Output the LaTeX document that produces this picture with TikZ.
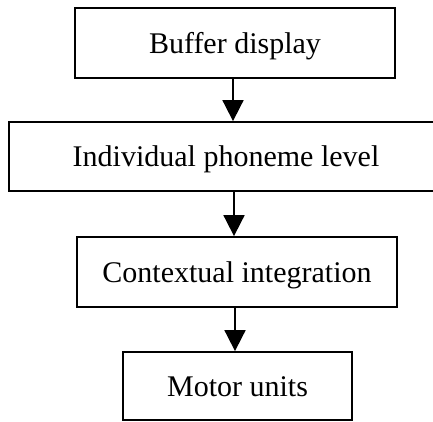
\documentclass[tikz,border=0pt]{standalone}
\usepackage{fontspec}
\setmainfont{Liberation Serif}
\usetikzlibrary{arrows.meta}
\begin{document}
\begin{tikzpicture}[x=1pt,y=-1pt,
  box/.style={draw=black,line width=1.8pt,rectangle,inner sep=0pt,text height=20pt,text depth=0pt,font=\fontsize{30}{36}\selectfont},
  arr/.style={line width=1.8pt,-{Triangle[length=21pt,width=21pt]}}]
\useasboundingbox (0,0) rectangle (433,421);
\fill[white] (0,0) rectangle (433,421);
\node[box,minimum width=320pt,minimum height=70pt] (buf) at (235,43) {Buffer display};
\node[box,minimum width=434pt,minimum height=69pt] (ind) at (226,156.5) {Individual phoneme level};
\node[box,minimum width=320pt,minimum height=70pt] (ctx) at (237,272) {Contextual integration};
\node[box,minimum width=229pt,minimum height=68pt] (mot) at (237.5,386) {Motor units};
\draw[arr] (buf.south -| 233,0) -- (ind.north -| 233,0);
\draw[arr] (ind.south -| 234,0) -- (ctx.north -| 234,0);
\draw[arr] (ctx.south -| 235,0) -- (mot.north -| 235,0);
\end{tikzpicture}
\end{document}
